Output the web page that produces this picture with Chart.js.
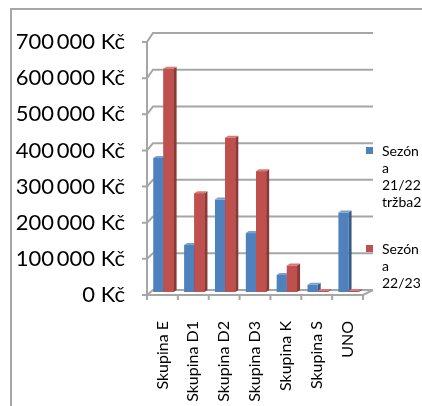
<!DOCTYPE html>
<html>
<head>
<meta charset="utf-8">
<script src="https://cdn.jsdelivr.net/npm/chart.js@4"></script>
<style>
  body { margin: 0; background: #fff; }
  #wrap { position: relative; width: 422px; height: 406px; overflow: hidden; }
  #frame { position: absolute; left: 10px; top: 8px; width: 430px; height: 420px;
           border-left: 2px solid #a6a6a6; border-top: 2px solid #a6a6a6; }
  #legend { position: absolute; left: 366px; top: 142px; width: 60px;
            font-family: Lato, sans-serif; font-size: 14px; line-height: 17px; color: #000; }
  .item { position: relative; padding-left: 16px; width: 41px; overflow-wrap: anywhere; }
  .sw { position: absolute; left: 0; top: 5px; width: 7px; height: 7px; }
</style>
</head>
<body>
<div id="wrap">
  <div id="frame"></div>
  <canvas id="c" width="422" height="406"></canvas>
  <div id="legend"></div>
</div>
<script>
const categories = ['Skupina E', 'Skupina D1', 'Skupina D2', 'Skupina D3', 'Skupina K', 'Skupina S', 'UNO'];
const seriesNames = ['Sezóna 21/22 tržba2', 'Sezóna 22/23'];
const season2122 = [371000, 130000, 256000, 163000, 47000, 20000, 220000];
const season2223 = [618000, 273000, 427000, 334000, 73000, 3000, 3000];
const yTicks = [0, 100000, 200000, 300000, 400000, 500000, 600000, 700000];

const colors = ['#4f81bd', '#c0504d'];
const sideColors = ['#385d8a', '#8c3836'];
const topColors = ['#7a9fd0', '#d47a78'];

function fmt(v) {
  if (v === 0) return '0 Kč';
  return (v / 1000) + '\u2009000 Kč';
}

// 3D-ish walls, grid and bar faces; bars sit a little behind the front edge
const lift = 3;
const look3d = {
  id: 'look3d',
  beforeDatasetsDraw(chart) {
    const ctx = chart.ctx, y = chart.scales.y, a = chart.chartArea;
    ctx.save();
    ctx.strokeStyle = '#a6a6a6';
    ctx.lineWidth = 2;
    yTicks.forEach(v => {
      const fy = y.getPixelForValue(v);
      const dy = -5 - 4 * v / 700000;
      ctx.beginPath();
      ctx.moveTo(a.left - 5, fy);
      ctx.lineTo(a.left, fy);
      ctx.lineTo(a.left + 6, fy + dy);
      ctx.lineTo(a.right + 10, fy + dy);
      ctx.stroke();
    });
    ctx.beginPath();
    ctx.moveTo(a.left, y.getPixelForValue(700000));
    ctx.lineTo(a.left, a.bottom);
    ctx.lineTo(a.right, a.bottom);
    ctx.lineTo(a.right + 10, a.bottom - 5);
    ctx.stroke();
    const x = chart.scales.x;
    const step = (a.right - a.left) / categories.length;
    for (let i = 0; i <= categories.length; i++) {
      const px = x.getPixelForValue(0) - step / 2 + i * step;
      ctx.beginPath();
      ctx.moveTo(px, a.bottom);
      ctx.lineTo(px, a.bottom + 5);
      ctx.stroke();
    }
    ctx.restore();
    ctx.save();
    ctx.translate(1, -lift);
  },
  afterDatasetsDraw(chart) {
    const ctx = chart.ctx;
    const d = 3, h = 2;
    ctx.save();
    [0, 1].forEach(di => {
      chart.getDatasetMeta(di).data.forEach(bar => {
        const p = bar.getProps(['x', 'y', 'base', 'width'], true);
        const l = p.x - p.width / 2, r = p.x + p.width / 2;
        if (di === 1) {
          ctx.fillStyle = colors[1];
          ctx.fillRect(l, p.y, p.width, p.base - p.y);
        }
        ctx.fillStyle = sideColors[di];
        ctx.beginPath();
        ctx.moveTo(r, p.y); ctx.lineTo(r + d, p.y - h);
        ctx.lineTo(r + d, p.base - h); ctx.lineTo(r, p.base);
        ctx.closePath(); ctx.fill();
        ctx.fillStyle = topColors[di];
        ctx.beginPath();
        ctx.moveTo(l, p.y); ctx.lineTo(l + d, p.y - h);
        ctx.lineTo(r + d, p.y - h); ctx.lineTo(r, p.y);
        ctx.closePath(); ctx.fill();
      });
    });
    ctx.restore();
    ctx.restore();
  }
};

new Chart(document.getElementById('c'), {
  type: 'bar',
  data: {
    labels: categories,
    datasets: [
      { label: seriesNames[0], data: season2122, backgroundColor: colors[0] },
      { label: seriesNames[1], data: season2223, backgroundColor: colors[1] }
    ]
  },
  options: {
    responsive: false,
    animation: false,
    layout: { padding: { top: 42, right: 59, left: 0, bottom: 0 } },
    datasets: { bar: { categoryPercentage: 0.66, barPercentage: 1 } },
    plugins: { legend: { display: false }, tooltip: { enabled: false } },
    scales: {
      y: {
        min: 0, max: 700000,
        afterFit(s) { s.width = 147; },
        afterBuildTicks(s) { s.ticks = yTicks.map(v => ({ value: v })); },
        grid: { display: false },
        border: { display: false },
        ticks: { callback: fmt, padding: 14, color: '#000', font: { family: 'Lato', size: 22 } }
      },
      x: {
        afterFit(s) { s.height = 111; },
        grid: { display: false },
        border: { display: false },
        ticks: { minRotation: 90, maxRotation: 90, autoSkip: false, padding: 18, color: '#000',
                 font: { family: 'Lato', size: 16 } }
      }
    }
  },
  plugins: [look3d]
});

const legend = document.getElementById('legend');
seriesNames.forEach((name, i) => {
  const item = document.createElement('div');
  item.className = 'item';
  item.style.marginBottom = i === 0 ? '30px' : '0';
  item.innerHTML = '<span class="sw" style="background:' + colors[i] + '"></span>' + name;
  legend.appendChild(item);
});
</script>
</body>
</html>
